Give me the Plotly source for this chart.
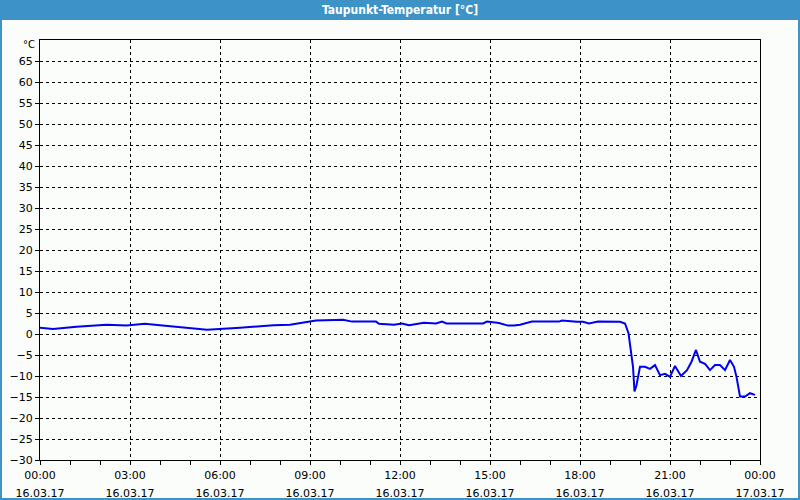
import pandas as pd
import plotly.graph_objects as go

# ---- data ----
day = "2017-03-16"
times = ["00:00", "00:26", "01:13", "02:13", "02:53", "03:30", "04:00", "04:40", "05:34", "06:40",
         "07:47", "08:20", "08:34", "09:12", "10:06", "10:24", "11:12", "11:18", "11:48", "12:04",
         "12:18", "12:48", "13:12", "13:24", "13:33", "14:46", "14:54", "15:18", "15:36", "15:48",
         "16:00", "16:12", "16:24", "17:18", "17:24", "17:54", "18:06", "18:18", "18:36", "19:20",
         "19:30", "19:37", "19:41", "19:46", "19:49", "19:53", "20:00", "20:10", "20:20", "20:30",
         "20:40", "20:50", "21:00", "21:10", "21:22", "21:34", "21:43", "21:52", "22:00", "22:10",
         "22:20", "22:30", "22:40", "22:50", "23:00", "23:08", "23:13", "23:20", "23:30", "23:40",
         "23:50"]
dewpoint = [1.5, 1.2, 1.7, 2.2, 2.0, 2.45, 2.1, 1.7, 1.0, 1.5,
            2.1, 2.2, 2.5, 3.2, 3.4, 2.95, 2.95, 2.45, 2.2, 2.5,
            2.1, 2.7, 2.5, 2.95, 2.5, 2.5, 2.95, 2.6, 2.0, 2.0,
            2.2, 2.5, 2.95, 2.95, 3.2, 2.9, 2.9, 2.5, 2.95, 2.9,
            2.5, 0.2, -3.0, -7.8, -13.7, -12.2, -7.8, -7.8, -8.3, -7.4,
            -9.8, -9.5, -10.2, -7.6, -10.0, -8.6, -6.6, -3.8, -6.6, -7.1,
            -8.6, -7.4, -7.4, -8.6, -6.2, -7.8, -10.2, -14.9, -14.9, -14.1,
            -14.5]
title = "Taupunkt-Temperatur [°C]"
unit = "°C"
y_ticks = list(range(-30, 70, 5))
x_start, x_end = "2017-03-16 00:00", "2017-03-17 00:00"

x = pd.to_datetime([f"{day} {t}" for t in times])

W, H = 800, 500
L, R, T, B = 40, 40, 40, 40
pw, ph = W - L - R, H - T - B

def px(xp):
    return (xp - L) / pw

def py(yp):
    return (H - B - yp) / ph

fig = go.Figure()
fig.add_trace(go.Scatter(x=x, y=dewpoint, mode="lines",
                         line=dict(color="#0000f0", width=2), hoverinfo="skip"))
# invisible traces to carry the label axes
for ax in ("x2", "x3"):
    fig.add_trace(go.Scatter(x=[x_start, x_end], y=[None, None], xaxis=ax, yaxis="y",
                             mode="lines", showlegend=False, hoverinfo="skip"))

blue = "#3d93c6"
shapes = [
    dict(type="rect", xref="paper", yref="paper", x0=px(2), x1=px(798), y0=py(498), y1=py(20),
         fillcolor="#fafdfa", line=dict(width=0), layer="below"),
]
fig.update_layout(
    width=W, height=H,
    margin=dict(l=L, r=R, t=T, b=B),
    paper_bgcolor=blue,
    plot_bgcolor="rgba(0,0,0,0)",
    showlegend=False,
    shapes=shapes,
    font=dict(family="DejaVu Sans", size=11, color="#000000"),
    annotations=[
        dict(text="<b>" + title + "</b>", xref="paper", yref="paper", x=0.5, y=py(10),
             xanchor="center", yanchor="middle", showarrow=False,
             font=dict(family="DejaVu Sans Condensed", size=12, color="white")),
        dict(text=unit, xref="paper", yref="paper", x=px(37), y=py(45), xanchor="right", yanchor="middle",
             showarrow=False, font=dict(size=10, color="#000")),
    ],
)
common = dict(type="date", range=[x_start, x_end], dtick=3 * 3600 * 1000, tick0=x_start,
              automargin=False)
fig.update_layout(
    xaxis=dict(
        **common,
        showticklabels=False,
        showgrid=True, gridcolor="black", gridwidth=1, griddash="3px,3px",
        showline=True, linecolor="black", linewidth=1, mirror=True,
        ticks="outside", ticklen=4, tickcolor="black",
        minor=dict(dtick=3600 * 1000, ticks="outside", ticklen=4, tickcolor="black", showgrid=False),
        zeroline=False,
    ),
    xaxis2=dict(
        **common,
        overlaying="x", side="bottom", anchor="y",
        tickformat="%H:%M",
        showgrid=False, showline=False, ticks="outside", ticklen=5, tickcolor="rgba(0,0,0,0)",
        tickfont=dict(size=11), zeroline=False,
    ),
    xaxis3=dict(
        **common,
        overlaying="x", side="bottom", anchor="y",
        tickformat="%d.%m.%y",
        showgrid=False, showline=False, ticks="outside", ticklen=23, tickcolor="rgba(0,0,0,0)",
        tickfont=dict(size=11), zeroline=False,
    ),
    yaxis=dict(
        range=[-30, 70], tickvals=y_ticks, automargin=False,
        showgrid=True, gridcolor="black", gridwidth=1, griddash="3px,3px",
        showline=True, linecolor="black", linewidth=1, mirror=True,
        ticks="outside", ticklen=4, tickcolor="black",
        tickfont=dict(size=11), zeroline=False,
    ),
)
fig.write_html("out.html")
